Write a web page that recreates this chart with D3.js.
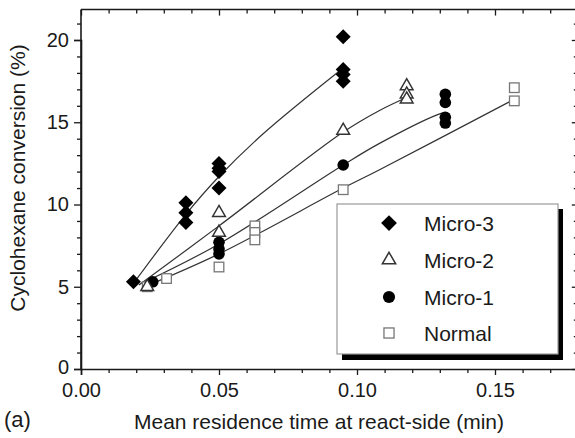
<!DOCTYPE html>
<html><head><meta charset="utf-8">
<script src="https://cdn.jsdelivr.net/npm/d3@7"></script>
<style>body{margin:0;background:#fff}svg{display:block}text{font-family:"Liberation Sans",Arial,sans-serif;fill:#1a1a1a}</style>
</head><body><svg id="c" width="575" height="438"></svg>
<script>
// ---- data ----
const seriesNames = ["Micro-3","Micro-2","Micro-1","Normal"];
const micro3X = [0.019,0.038,0.038,0.038,0.05,0.05,0.05,0.05,0.095,0.095,0.095,0.095];
const micro3Y = [5.3,10.1,9.5,8.9,12.5,12.2,12.0,11.0,20.2,18.2,17.9,17.5];
const micro2X = [0.024,0.05,0.05,0.095,0.118,0.118,0.118];
const micro2Y = [5.0,9.5,8.3,14.5,17.2,16.7,16.4];
const micro1X = [0.026,0.05,0.05,0.05,0.095,0.132,0.132,0.132,0.132];
const micro1Y = [5.3,7.7,7.3,7.0,12.4,16.7,16.2,15.3,14.95];
const normalX = [0.024,0.031,0.05,0.063,0.063,0.063,0.095,0.157,0.157];
const normalY = [5.0,5.5,6.2,8.7,8.3,7.85,10.9,17.1,16.3];
// fitted curves
const fit3X = [0.019,0.038,0.05,0.066,0.095];
const fit3Y = [5.2,9.4,11.7,14.3,18.3];
const fit2X = [0.021,0.05,0.095,0.108,0.118];
const fit2Y = [5.1,8.7,14.4,15.7,16.5];
const fit1X = [0.022,0.05,0.095,0.108,0.129,0.132];
const fit1Y = [5.2,7.6,12.4,13.7,15.45,15.6];
const fitNX = [0.023,0.05,0.095,0.108,0.157];
const fitNY = [5.0,7.0,11.0,12.1,16.4];
const xTicks = [0,0.05,0.10,0.15];
const xTickLabels = ["0.00","0.05","0.10","0.15"];
const yTicks = [0,5,10,15,20];
const yTickLabels = ["0","5","10","15","20"];

// ---- chart ----
const svg = d3.select("#c");
const x = d3.scaleLinear().domain([0,0.18]).range([81,577.8]);
const y = d3.scaleLinear().domain([0,20]).range([369,40]);
const yTop = 21.85;
const ink = "#1a1a1a";

const g = svg.append("g");
const xAxisB = d3.axisBottom(x).tickValues(xTicks).tickFormat((d,i)=>xTickLabels[i]).tickSize(6).tickPadding(8);
const gx = g.append("g").attr("transform",`translate(0,${y(0)})`).call(xAxisB);
const xMinor = d3.range(0,0.181,0.01).filter(v=>!xTicks.some(t=>Math.abs(t-v)<1e-6));
g.append("g").attr("transform",`translate(0,${y(0)})`).call(d3.axisBottom(x).tickValues(xMinor).tickFormat("").tickSize(4)).select(".domain").remove();
const yAxisL = d3.axisLeft(y).tickValues(yTicks).tickFormat((d,i)=>yTickLabels[i]).tickSize(7).tickPadding(5);
const gy = g.append("g").attr("transform",`translate(${x(0)},0)`).call(yAxisL);
const yMinor = d3.range(0,22,1).filter(v=>v%5!==0);
g.append("g").attr("transform",`translate(${x(0)},0)`).call(d3.axisLeft(y).tickValues(yMinor).tickFormat("").tickSize(4)).select(".domain").remove();
g.append("g").attr("transform",`translate(0,${y(yTop)})`).call(d3.axisBottom(x).tickValues(xTicks).tickFormat("").tickSize(6)).select(".domain").remove();
g.append("g").attr("transform",`translate(0,${y(yTop)})`).call(d3.axisBottom(x).tickValues(xMinor).tickFormat("").tickSize(4)).select(".domain").remove();
g.append("line").attr("x1",x(0)).attr("x2",575).attr("y1",y(yTop)).attr("y2",y(yTop)).attr("stroke",ink).attr("stroke-width",1.6);
g.append("g").attr("transform",`translate(${x(0.18)},0)`).call(d3.axisLeft(y).tickValues(yTicks).tickFormat("").tickSize(6)).select(".domain").remove();
g.append("g").attr("transform",`translate(${x(0.18)},0)`).call(d3.axisLeft(y).tickValues(yMinor).tickFormat("").tickSize(4)).select(".domain").remove();
g.append("line").attr("x1",x(0)).attr("x2",x(0)).attr("y1",y(0)).attr("y2",y(yTop)).attr("stroke",ink).attr("stroke-width",1.6);

svg.selectAll(".domain").attr("stroke",ink).attr("stroke-width",1.6);
svg.selectAll(".tick line").attr("stroke",ink).attr("stroke-width",1.3);
svg.selectAll(".tick text").attr("font-size",20).style("font-family","Liberation Sans, Arial, sans-serif").attr("fill",ink);
gy.selectAll(".tick text").filter((d)=>d===0).attr("dy","0.2em");

// fit lines
const line = d3.line().x(d=>x(d[0])).y(d=>y(d[1])).curve(d3.curveCatmullRom.alpha(0.5));
const fits = [[fit3X,fit3Y],[fit2X,fit2Y],[fit1X,fit1Y],[fitNX,fitNY]];
fits.forEach(([fx,fy])=>{
  g.append("path").datum(fx.map((v,i)=>[v,fy[i]])).attr("d",line)
    .attr("fill","none").attr("stroke","#333").attr("stroke-width",1.2);
});

// markers
function drawMarker(sel, kind, s){
  s = s||1;
  if(kind==="Micro-3") sel.append("path").attr("d",`M0,${-7.5*s}L${7.5*s},0L0,${7.5*s}L${-7.5*s},0Z`).attr("fill","#000");
  else if(kind==="Micro-2") sel.append("path").attr("d",d3.symbol(d3.symbolTriangle,70*s*s)()).attr("fill","#fff").attr("stroke","#333").attr("stroke-width",1.5);
  else if(kind==="Micro-1") sel.append("circle").attr("r",5.8*s).attr("fill","#000");
  else sel.append("rect").attr("x",-4.8*s).attr("y",-4.8*s).attr("width",9.6*s).attr("height",9.6*s).attr("fill","#fff").attr("stroke","#777").attr("stroke-width",1.3);
}
const allSeries = [["Normal",normalX,normalY],["Micro-1",micro1X,micro1Y],["Micro-2",micro2X,micro2Y],["Micro-3",micro3X,micro3Y]];
allSeries.forEach(([name,xs,ys])=>{
  xs.forEach((v,i)=>{
    const m = g.append("g").attr("transform",`translate(${x(v)},${y(ys[i])})`);
    drawMarker(m,name);
  });
});

// legend
const lg = svg.append("g");
lg.append("rect").attr("x",342).attr("y",209).attr("width",221).attr("height",151).attr("fill","#000");
lg.append("rect").attr("x",337).attr("y",204).attr("width",221).attr("height",150).attr("fill","#fff").attr("stroke","#999").attr("stroke-width",1.2);
const rowsY = [223,260,297,333];
seriesNames.forEach((n,i)=>{
  const m = lg.append("g").attr("transform",`translate(389,${rowsY[i]})`);
  drawMarker(m,n,1.05);
  lg.append("text").attr("x",424).attr("y",rowsY[i]).attr("dy","0.36em").attr("font-size",21).text(n);
});

// titles
svg.append("text").attr("x",319).attr("y",429).attr("text-anchor","middle").attr("font-size",21).text("Mean residence time at react-side (min)");
svg.append("text").attr("transform","translate(25,178) rotate(-90)").attr("text-anchor","middle").attr("font-size",21).text("Cyclohexane conversion (%)");
svg.append("text").attr("x",4).attr("y",427).attr("font-size",22).text("(a)");
</script></body></html>
